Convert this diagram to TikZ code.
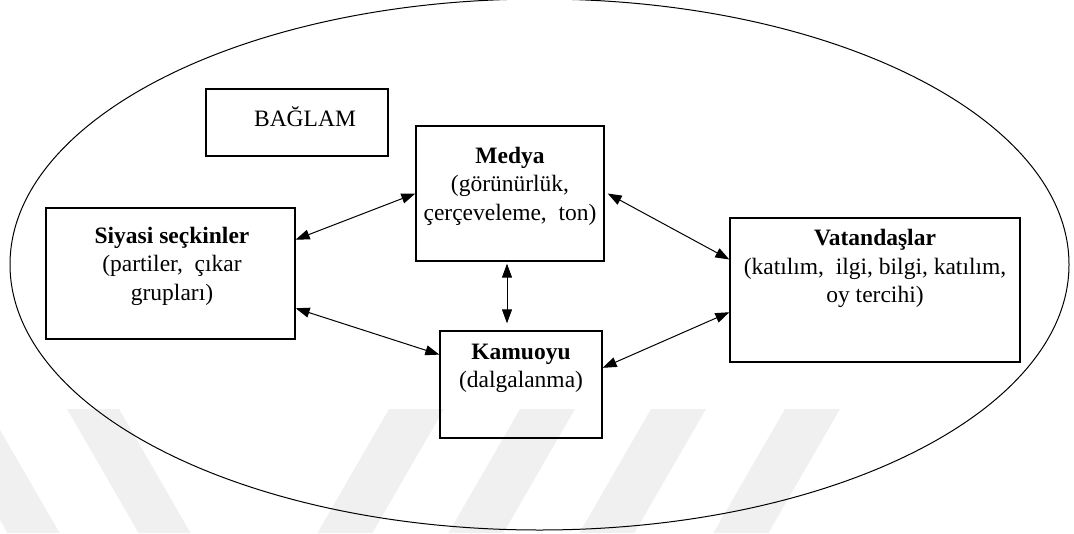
\documentclass[tikz,border=0pt]{standalone}
\usepackage{fontspec}
\setmainfont{Liberation Serif}
\usetikzlibrary{arrows.meta,calc}
\begin{document}
\begin{tikzpicture}[x=1pt,y=-1pt,
  box/.style={draw, line width=1.3pt, rectangle, inner sep=0pt},
  % base anchor = baseline of the last line of the text
  lbl/.style={align=center, inner sep=0pt, anchor=base,
    font=\fontsize{23.5}{28.5}\selectfont},
  link/.style={line width=1pt,
    {Triangle[length=14pt,width=10pt]}-{Triangle[length=14pt,width=10pt]}},
  band/.style={fill=black!6, draw=none}]
\useasboundingbox (0,0) rectangle (1074,533);

% faint diagonal stripes in the lower part
\foreach \a in {-64,67}
  \fill[band] (\a,409) -- (\a+52,409) -- (\a+123.6,533) -- (\a+71.6,533) -- cycle;
\foreach \a in {389,520,651,785}
  \fill[band] (\a,409) -- (\a+55,409) -- (\a-16.6,533) -- (\a-71.6,533) -- cycle;

% surrounding context
\draw[line width=1pt] (539.5,264.5) ellipse [x radius=529.5, y radius=265.5];

% boxes
\node[box, minimum width=182pt, minimum height=67pt]  (bag) at (297,122.5) {};
\node[box, minimum width=188pt, minimum height=135pt] (med) at (510,193.5) {};
\node[box, minimum width=249pt, minimum height=131pt] (siy) at (170.5,273.5) {};
\node[box, minimum width=290pt, minimum height=144pt] (vat) at (875,290) {};
\node[box, minimum width=162pt, minimum height=107pt] (kam) at (521,384.5) {};

% box texts
\node[lbl] (bagt) at (305,126) {BAĞLAM};
\node[lbl] (medt) at (510,220) {\textbf{Medya}\\(görünürlük,\\çerçeveleme,\ \ ton)};
\node[lbl] (siyt) at (172,300) {\textbf{Siyasi seçkinler}\\(partiler,\ \ çıkar\\grupları)};
\node[lbl] (vatt) at (875,302.5) {\textbf{Vatandaşlar}\\(katılım,\ \ ilgi, bilgi, katılım,\\oy tercihi)};
\node[lbl] (kamt) at (521,387.5) {\textbf{Kamuoyu}\\(dalgalanma)};

% two-way links
\draw[link] ($(siy.north east)!0.244!(siy.south east)$) -- (med.west);
\draw[link] ($(siy.north east)!0.763!(siy.south east)$) -- ($(kam.north west)!0.224!(kam.south west)$);
\draw[link] ([xshift=3pt]med.east) -- ($(vat.north west)!0.29!(vat.south west)$);
\draw[link] ($(kam.north east)!0.346!(kam.south east)$) -- ($(vat.north west)!0.653!(vat.south west)$);
\coordinate (vm) at ([xshift=-3pt,yshift=-2pt]med.south);
\coordinate (vk) at ($(vm |- kam.north)+(0,-7)$);
\draw[link] (vm) -- (vk);
\end{tikzpicture}
\end{document}
